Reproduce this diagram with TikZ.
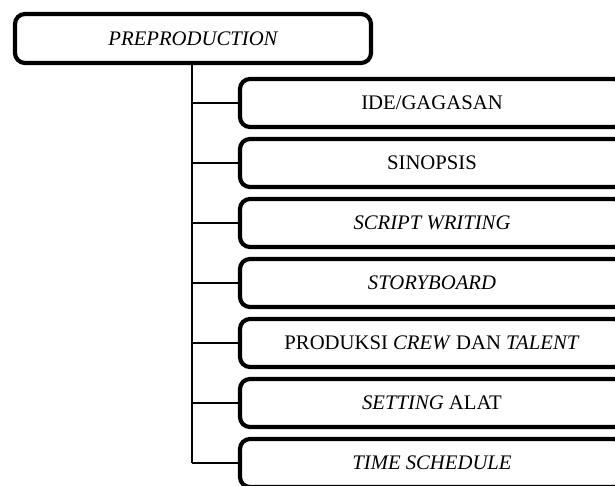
\documentclass[tikz,border=0pt]{standalone}
\usepackage{fontspec}
\setmainfont{Liberation Serif}
\begin{document}
\begin{tikzpicture}[x=1pt,y=-1pt,
  box/.style={draw=black, line width=4.2pt, rounded corners=10pt, fill=white,
    inner sep=0pt, font=\fontsize{20.7}{24}\selectfont},
  parentbox/.style={box, minimum width=356pt, minimum height=49pt},
  childbox/.style={box, minimum width=384pt, minimum height=48pt},
  link/.style={draw=black, line width=1.3pt}]
\path[use as bounding box, clip] (0,0) rectangle (615,486);
\fill[white] (0,0) rectangle (615,486);
\node[parentbox] (p) at (193,38.5) {\itshape PREPRODUCTION};
\coordinate (t0) at (192,63);
\coordinate (t1) at (192,463);
\node[childbox] (c1) at (432,103) {IDE/GAGASAN};
\node[childbox] (c2) at (432,163) {SINOPSIS};
\node[childbox] (c3) at (432,223) {\itshape SCRIPT WRITING};
\node[childbox] (c4) at (432,283) {\itshape STORYBOARD};
\node[childbox] (c5) at (432,343) {PRODUKSI \textit{CREW} DAN \textit{TALENT}};
\node[childbox] (c6) at (432,403) {\textit{SETTING} ALAT};
\node[childbox] (c7) at (432,463) {\itshape TIME SCHEDULE};
\draw[link] (t0) -- (t1);
\foreach \c in {c1,c2,c3,c4,c5,c6,c7}{
  \draw[link] (\c.west) -- (\c.west -| t0);
}
\end{tikzpicture}
\end{document}
